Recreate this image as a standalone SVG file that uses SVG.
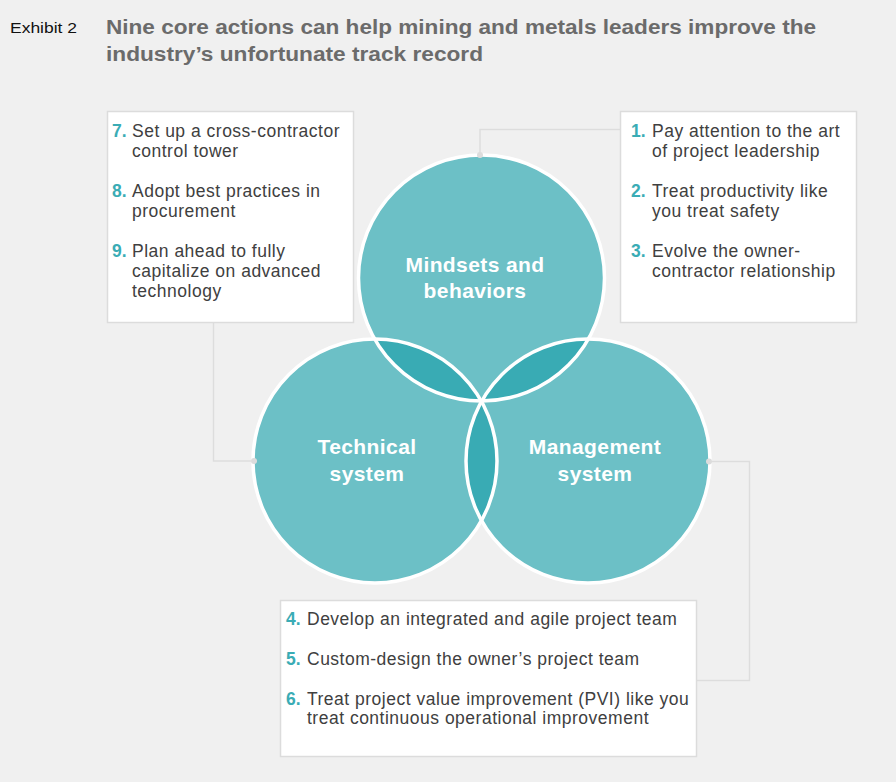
<svg xmlns="http://www.w3.org/2000/svg" width="896" height="782" viewBox="0 0 896 782">
<style>
.bg{fill:#f0f0f0}
.box{fill:#ffffff;stroke:#dcdcdc;stroke-width:1.5}
.conn{fill:none;stroke:#dddddd;stroke-width:1.5}
.dot{fill:#dcdcdc}
.circ{fill:#6cc0c6}
.lens{fill:#39abb4}
.ring{fill:none;stroke:#ffffff;stroke-width:3.5}
.t{font-family:"Liberation Sans",Arial,sans-serif;font-size:17.5px;fill:#404040;letter-spacing:0.5px}
.n{font-family:"Liberation Sans",Arial,sans-serif;font-size:17.5px;font-weight:bold;fill:#3aacb5}
.lbl{font-family:"Liberation Sans",Arial,sans-serif;font-size:21px;font-weight:bold;fill:#ffffff;text-anchor:middle;letter-spacing:0.4px}
.title{font-family:"Liberation Sans",Arial,sans-serif;font-size:20px;font-weight:bold;fill:#6b6b6b}
.ex{font-family:"Liberation Sans",Arial,sans-serif;font-size:15px;fill:#111111}
</style>
<defs>
<clipPath id="cTop"><circle cx="481.5" cy="278" r="123"/></clipPath>
<clipPath id="cLeft"><circle cx="375" cy="461" r="122"/></clipPath>
</defs>
<rect class="bg" x="0" y="0" width="896" height="782"/>
<g id="title">
<text class="ex" x="10" y="33" textLength="67" lengthAdjust="spacingAndGlyphs">Exhibit 2</text>
<text class="title" x="106" y="34" textLength="710" lengthAdjust="spacingAndGlyphs">Nine core actions can help mining and metals leaders improve the</text>
<text class="title" x="106" y="61" textLength="377" lengthAdjust="spacingAndGlyphs">industry’s unfortunate track record</text>
</g>
<g id="connectors">
<polyline class="conn" points="480,155 480,129.5 620,129.5"/>
<polyline class="conn" points="213.5,323 213.5,461 254,461"/>
<polyline class="conn" points="709,461.5 749.5,461.5 749.5,680.5 697,680.5"/>
</g>
<g id="venn">
<circle class="circ" cx="481.5" cy="278" r="123"/>
<circle class="circ" cx="375" cy="461" r="122"/>
<circle class="circ" cx="588" cy="461" r="122"/>
<circle class="lens" cx="375" cy="461" r="122" clip-path="url(#cTop)"/>
<circle class="lens" cx="588" cy="461" r="122" clip-path="url(#cTop)"/>
<circle class="lens" cx="588" cy="461" r="122" clip-path="url(#cLeft)"/>
<circle class="ring" cx="481.5" cy="278" r="123"/>
<circle class="ring" cx="375" cy="461" r="122"/>
<circle class="ring" cx="588" cy="461" r="122"/>
</g>
<g id="dots">
<circle class="dot" cx="480" cy="155" r="3"/>
<circle class="dot" cx="254" cy="461" r="3"/>
<circle class="dot" cx="709" cy="461.5" r="3"/>
</g>
<g id="node-mindsets">
<text class="lbl" x="475" y="272">Mindsets and</text>
<text class="lbl" x="475" y="298">behaviors</text>
</g>
<g id="node-technical">
<text class="lbl" x="367" y="454">Technical</text>
<text class="lbl" x="367" y="481">system</text>
</g>
<g id="node-management">
<text class="lbl" x="595" y="454">Management</text>
<text class="lbl" x="595" y="481">system</text>
</g>
<g id="box-left">
<rect class="box" x="107.5" y="111.5" width="246" height="211"/>
<text class="n" x="112" y="137">7.</text>
<text class="t" x="132" y="137">Set up a cross-contractor</text>
<text class="t" x="132" y="157">control tower</text>
<text class="n" x="112" y="197">8.</text>
<text class="t" x="132" y="197">Adopt best practices in</text>
<text class="t" x="132" y="217">procurement</text>
<text class="n" x="112" y="257">9.</text>
<text class="t" x="132" y="257">Plan ahead to fully</text>
<text class="t" x="132" y="277">capitalize on advanced</text>
<text class="t" x="132" y="297">technology</text>
</g>
<g id="box-right">
<rect class="box" x="620.5" y="111.5" width="236" height="211"/>
<text class="n" x="631" y="137">1.</text>
<text class="t" x="652" y="137">Pay attention to the art</text>
<text class="t" x="652" y="157">of project leadership</text>
<text class="n" x="631" y="197">2.</text>
<text class="t" x="652" y="197">Treat productivity like</text>
<text class="t" x="652" y="217">you treat safety</text>
<text class="n" x="631" y="257">3.</text>
<text class="t" x="652" y="257">Evolve the owner-</text>
<text class="t" x="652" y="277">contractor relationship</text>
</g>
<g id="box-bottom">
<rect class="box" x="280.5" y="600.5" width="416" height="156"/>
<text class="n" x="286" y="625">4.</text>
<text class="t" x="307" y="625">Develop an integrated and agile project team</text>
<text class="n" x="286" y="665">5.</text>
<text class="t" x="307" y="665">Custom-design the owner’s project team</text>
<text class="n" x="286" y="705">6.</text>
<text class="t" x="307" y="705">Treat project value improvement (PVI) like you</text>
<text class="t" x="307" y="724">treat continuous operational improvement</text>
</g>
</svg>
